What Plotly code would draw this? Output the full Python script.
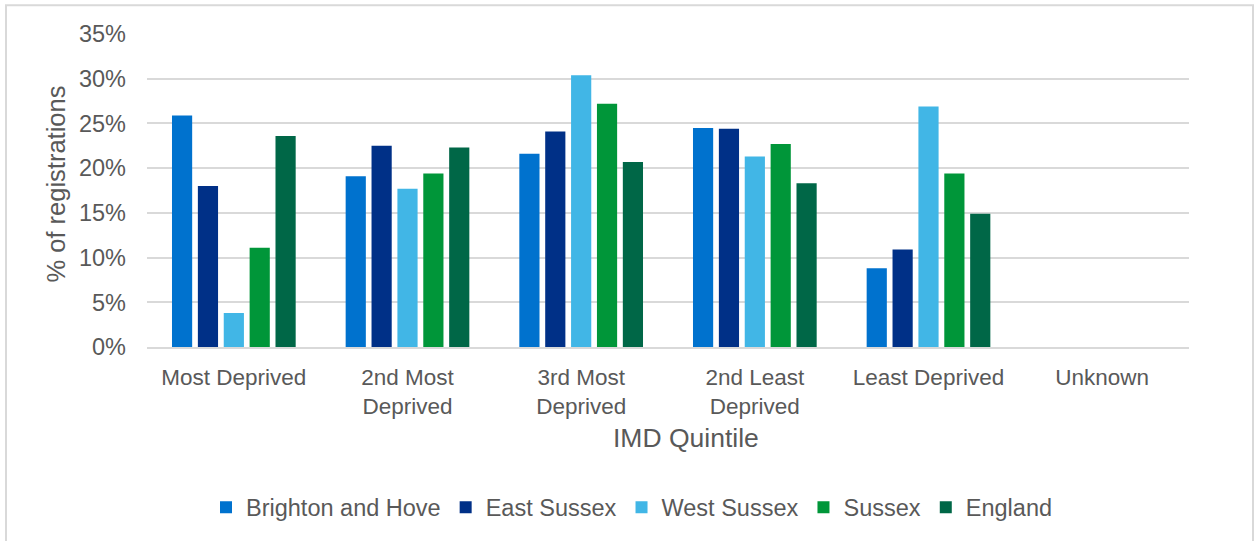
import plotly.graph_objects as go

# IMD quintile categories (tick labels wrap onto two lines where needed)
quintiles = ["Most Deprived", "2nd Most<br>Deprived", "3rd Most<br>Deprived",
             "2nd Least<br>Deprived", "Least Deprived", "Unknown"]

# Percentage of registrations by area and quintile
brighton_and_hove = [25.9, 19.1, 21.6, 24.5, 8.8, 0]
east_sussex = [18.0, 22.5, 24.1, 24.4, 10.9, 0]
west_sussex = [3.8, 17.7, 30.4, 21.3, 26.9, 0]
sussex = [11.1, 19.4, 27.2, 22.7, 19.4, 0]
england = [23.6, 22.3, 20.7, 18.3, 14.9, 0]

series = [
    ("Brighton and Hove", brighton_and_hove, "#0072CE"),
    ("East Sussex", east_sussex, "#003087"),
    ("West Sussex", west_sussex, "#41B6E6"),
    ("Sussex", sussex, "#009639"),
    ("England", england, "#006747"),
]

FONT = "Liberation Sans, Arial, sans-serif"
TEXT = "#595959"
GRID = "#d9d9d9"
TICK_SIZE = 23.5

fig = go.Figure()
for name, vals, colour in series:
    fig.add_trace(go.Bar(
        name=name, x=quintiles, y=vals,
        marker=dict(color=colour, line=dict(width=0)),
    ))

W, H = 1255, 541
ML, MR, MT, MB = 147, 66, 34, 191
pw, ph = W - ML - MR, H - MT - MB

def px_x(p):
    return (p - ML) / pw

def px_y(p):
    return (H - MB - p) / ph

fig.update_layout(
    width=W, height=H,
    margin=dict(l=ML, r=MR, t=MT, b=MB, pad=0),
    paper_bgcolor="white", plot_bgcolor="white",
    font=dict(family=FONT, size=TICK_SIZE, color=TEXT),
    barmode="group", bargap=0.255, bargroupgap=0.22,
    showlegend=True,
    legend=dict(orientation="h", x=px_x(632), xanchor="center",
                y=px_y(512), yanchor="middle",
                font=dict(family=FONT, size=TICK_SIZE, color=TEXT),
                itemclick=False, itemdoubleclick=False,
                itemwidth=30, traceorder="normal"),
    xaxis=dict(
        showgrid=False, showline=True, linecolor=GRID, linewidth=2,
        ticks="", ticklabelstandoff=9,
        tickfont=dict(size=22.5, color=TEXT),
    ),
    yaxis=dict(
        range=[0, 35], dtick=5, ticksuffix="%",
        showgrid=True, gridcolor=GRID, gridwidth=2,
        zeroline=False, showline=False, ticks="",
        ticklabelstandoff=20,
        tickfont=dict(size=TICK_SIZE, color=TEXT),
    ),
    shapes=[dict(
        type="rect", xref="paper", yref="paper",
        x0=px_x(6), x1=px_x(1253), y0=px_y(560), y1=px_y(5),
        line=dict(color=GRID, width=2), fillcolor="rgba(0,0,0,0)",
        layer="below",
    )],
    annotations=[
        dict(text="IMD Quintile", xref="paper", yref="paper",
             x=px_x(686), y=px_y(442), xanchor="center", yanchor="middle",
             showarrow=False, font=dict(family=FONT, size=26.5, color=TEXT)),
        dict(text="% of registrations", xref="paper", yref="paper",
             x=px_x(56), y=px_y(186), xanchor="center", yanchor="middle",
             textangle=-90, showarrow=False,
             font=dict(family=FONT, size=25.5, color=TEXT)),
    ],
)

fig.write_html("out.html")
